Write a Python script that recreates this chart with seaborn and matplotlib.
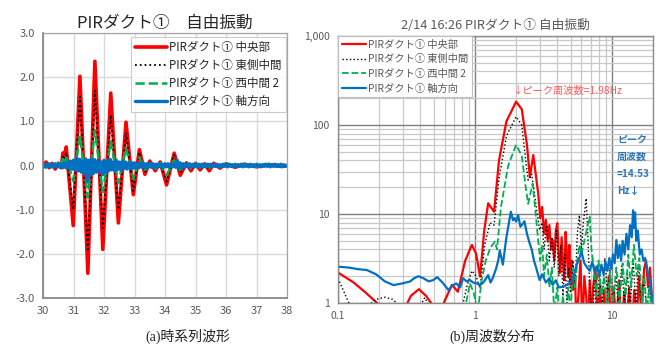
import numpy as np
import pandas as pd
import matplotlib
matplotlib.use("Agg")
import matplotlib.pyplot as plt
import seaborn as sns
from matplotlib.ticker import FixedLocator, NullFormatter

# ---------------- data ----------------
series_labels = ["PIRダクト① 中央部", "PIRダクト① 東側中間", "PIRダクト① 西中間 2", "PIRダクト① 軸方向"]
colors = ["#ff0000", "#000000", "#00b050", "#0070c0"]

# (a) time series (s, value)
t_main = [30.0, 30.1, 30.2, 30.3, 30.4, 30.5, 30.6, 30.65, 30.7, 30.76,
          30.99, 31.21, 31.47, 31.70, 31.96, 32.22, 32.47, 32.72, 32.96,
          33.16, 33.34, 33.5, 33.68, 33.84, 34.05, 34.3, 34.5, 34.7, 34.85,
          35.0, 35.15, 35.3, 35.45, 35.6, 35.8, 36.0, 36.3, 36.6, 37.0, 37.4, 37.8, 38.0]
v_center = [0.0, 0.08, -0.05, 0.05, -0.08, 0.05, -0.05, 0.28, 0.22, 0.42,
            -1.36, 2.02, -2.44, 2.36, -1.90, 1.64, -1.30, 0.98, -0.66,
            0.36, -0.20, 0.10, -0.12, 0.08, -0.44, 0.28, -0.22, 0.06, -0.12,
            0.05, -0.10, 0.04, -0.12, 0.05, -0.06, 0.04, -0.04, 0.03, -0.03, 0.02, -0.02, 0.0]
v_east = [0.0, 0.05, -0.04, 0.04, -0.06, 0.04, -0.04, 0.22, 0.16, 0.30,
          -1.00, 1.56, -1.95, 1.70, -1.42, 1.14, -1.00, 0.75, -0.58,
          0.30, -0.16, 0.08, -0.10, 0.06, -0.36, 0.24, -0.16, 0.05, -0.08,
          0.04, -0.08, 0.03, -0.08, 0.04, -0.05, 0.03, -0.03, 0.02, -0.02, 0.02, -0.02, 0.0]
v_west2 = [0.02, -0.05, 0.06, -0.04, 0.05, -0.03, 0.06, 0.15, 0.05, 0.18,
           -0.35, 0.68, -0.72, 0.80, -0.60, 0.55, -0.40, 0.40, -0.30,
           0.18, -0.10, 0.08, -0.08, 0.06, -0.22, 0.12, -0.10, 0.06, -0.06,
           0.05, -0.05, 0.04, -0.05, 0.05, -0.04, 0.05, -0.04, 0.04, -0.03, 0.04, -0.03, 0.02]
t_axial = list(np.round(np.linspace(30.0, 38.0, 161), 2))
v_axial = [
    0.02, -0.03, 0.03, -0.02, 0.04, -0.03, 0.02, -0.04, 0.03, -0.03, 0.05, -0.04, 0.03, -0.05, 0.06, -0.05, 0.08, -0.06, 0.10, -0.08,
    0.12, -0.10, 0.17, -0.12, 0.14, -0.15, 0.10, -0.18, 0.15, -0.37, 0.12, -0.22, 0.15, -0.18, 0.13, -0.15, 0.10, -0.14, 0.08, -0.21,
    0.12, -0.16, 0.10, -0.12, 0.14, -0.10, 0.08, -0.12, 0.12, -0.09, 0.08, -0.10, 0.09, -0.07, 0.08, -0.08, 0.06, -0.07, 0.07, -0.06,
    0.06, -0.06, 0.05, -0.05, 0.06, -0.04, 0.05, -0.05, 0.04, -0.04, 0.05, -0.04, 0.04, -0.04, 0.03, -0.04, 0.04, -0.03, 0.03, -0.04,
    0.04, -0.03, 0.04, -0.04, 0.03, -0.03, 0.05, -0.04, 0.12, -0.06, 0.06, -0.05, 0.04, -0.04, 0.03, -0.03, 0.04, -0.03, 0.03, -0.03,
    0.03, -0.03, 0.03, -0.02, 0.03, -0.03, 0.02, -0.03, 0.03, -0.02, 0.03, -0.03, 0.02, -0.02, 0.03, -0.03, 0.02, -0.02, 0.03, -0.02,
    0.02, -0.03, 0.03, -0.02, 0.02, -0.03, 0.03, -0.02, 0.02, -0.02, 0.03, -0.03, 0.02, -0.02, 0.02, -0.03, 0.03, -0.02, 0.02, -0.02,
    0.03, -0.02, 0.02, -0.03, 0.02, -0.02, 0.03, -0.02, 0.02, -0.03, 0.02, -0.02, 0.03, -0.02, 0.02, -0.02, 0.03, -0.03, 0.02, -0.02,
    0.0]

# (b) spectra (Hz, amplitude)
spec_center = [(0.1, 2.2), (0.13, 1.7), (0.16, 1.3), (0.2, 0.95), (0.25, 0.6), (0.3, 0.8), (0.34, 1.2), (0.39, 1.43),
               (0.44, 1.2), (0.49, 0.95), (0.54, 0.6), (0.6, 1.05), (0.68, 1.6), (0.75, 1.34), (0.85, 3.0), (0.95, 4.5),
               (1.02, 3.6), (1.09, 1.98), (1.17, 6.5), (1.25, 13.2), (1.38, 10.6), (1.5, 40), (1.7, 110), (2.0, 183),
               (2.2, 150), (2.4, 60), (2.52, 26), (2.67, 46), (2.8, 26), (2.9, 17), (3.0, 9), (3.1, 12), (3.2, 6),
               (3.3, 8.6), (3.4, 5), (3.5, 7.5), (3.6, 4), (3.7, 5.1), (3.8, 3), (3.9, 6.5), (4.0, 7.9), (4.1, 3.5),
               (4.2, 2.2), (4.3, 5.5), (4.4, 2.8), (4.5, 1.8), (4.6, 6.3), (4.7, 3.5), (4.8, 2.0), (4.9, 4.5), (5.0, 1.6),
               (5.1, 3.0), (5.2, 1.4), (5.4, 1.8), (5.5, 0.6), (5.7, 1.2), (5.9, 3.0), (6.1, 0.5), (6.3, 2.0), (6.5, 1.2),
               (6.7, 0.5), (6.9, 1.8), (7.1, 0.6), (7.3, 1.5), (7.6, 2.5), (7.9, 0.5), (8.2, 1.6), (8.5, 0.5), (8.8, 1.4),
               (9.1, 0.6), (9.5, 2.0), (9.9, 0.5), (10.3, 1.5), (10.8, 0.6), (11.3, 1.8), (11.8, 0.5), (12.3, 1.3),
               (12.8, 0.6), (13.4, 1.5), (14.0, 0.5), (14.6, 1.4), (15.2, 0.6), (15.8, 2.0), (16.5, 0.7), (17.2, 2.4),
               (17.8, 3.0), (18.4, 1.5), (19.0, 2.5), (19.6, 1.2), (20.0, 1.0)]
spec_east = [(0.1, 1.9), (0.12, 1.0), (0.14, 0.7), (0.16, 0.9), (0.19, 1.1), (0.22, 1.16), (0.25, 1.1), (0.28, 0.95),
             (0.32, 0.6), (0.38, 0.8), (0.43, 1.15), (0.47, 0.9), (0.52, 0.6), (0.65, 0.5), (0.75, 0.6), (0.82, 1.0),
             (0.88, 1.6), (0.95, 2.3), (1.02, 2.0), (1.09, 1.47), (1.18, 4.5), (1.29, 8.0), (1.38, 7.5), (1.5, 25),
             (1.7, 75), (2.0, 124), (2.2, 100), (2.35, 40), (2.45, 24), (2.6, 28), (2.75, 15), (2.97, 6.6), (3.1, 8),
             (3.2, 4), (3.35, 7.5), (3.5, 3), (3.65, 5.5), (3.8, 2.5), (3.95, 6.5), (4.1, 2.0), (4.25, 4.5), (4.4, 1.2),
             (4.55, 3.5), (4.7, 1.0), (4.85, 2.5), (5.0, 1.3), (5.2, 3.0), (5.4, 1.5), (5.6, 6), (5.8, 9.7), (6.0, 4),
             (6.2, 8), (6.5, 15), (6.7, 5), (6.9, 1.5), (7.2, 0.6), (7.5, 1.8), (7.8, 0.6), (8.1, 2.3), (8.5, 1.0),
             (8.9, 3.2), (9.3, 1.2), (9.7, 2.5), (10.2, 0.8), (10.7, 2.0), (11.2, 0.9), (11.8, 2.6), (12.4, 1.0),
             (13.0, 2.2), (13.6, 0.8), (14.3, 3.0), (15.0, 1.0), (15.7, 2.8), (16.4, 1.1), (17.2, 2.0), (18.0, 0.8),
             (18.8, 1.6), (19.5, 0.8), (20.0, 1.0)]
spec_west2 = [(0.1, 0.4), (0.5, 0.4), (0.8, 0.5), (0.85, 0.9), (0.92, 1.66), (0.98, 1.3), (1.05, 0.8), (1.12, 1.8),
              (1.2, 3.0), (1.3, 4.2), (1.4, 4.9), (1.45, 4.0), (1.55, 12), (1.75, 35), (2.0, 60), (2.2, 45), (2.35, 20),
              (2.45, 13), (2.64, 22), (2.75, 12), (2.9, 5), (3.0, 3.0), (3.1, 4.5), (3.2, 2.0), (3.35, 3.5), (3.5, 1.5),
              (3.65, 2.5), (3.8, 0.8), (4.0, 1.5), (4.2, 0.6), (4.4, 1.2), (4.6, 0.6), (4.8, 1.5), (5.0, 0.8), (5.2, 2.5),
              (5.4, 1.5), (5.6, 3), (5.8, 4.5), (6.0, 3.5), (6.3, 5), (6.6, 7), (6.9, 9.3), (7.1, 4), (7.4, 2.5),
              (7.7, 1.2), (8.0, 3.0), (8.4, 1.2), (8.8, 2.0), (9.2, 0.8), (9.7, 2.2), (10.2, 1.0), (10.8, 2.5),
              (11.4, 1.0), (12.0, 2.8), (12.6, 1.2), (13.2, 3.5), (13.8, 1.5), (14.5, 4.5), (15.2, 2.0), (15.9, 3.2),
              (16.6, 1.0), (17.3, 2.0), (18.0, 0.8), (18.8, 1.5), (19.5, 0.8), (20.0, 1.0)]
spec_axial = [(0.1, 2.56), (0.12, 2.5), (0.14, 2.4), (0.162, 2.35), (0.19, 2.1), (0.22, 1.75), (0.254, 1.59),
              (0.29, 1.65), (0.335, 1.74), (0.36, 1.9), (0.386, 2.0), (0.42, 1.9), (0.46, 1.75), (0.497, 1.81),
              (0.53, 1.95), (0.58, 1.7), (0.64, 1.4), (0.68, 1.55), (0.73, 1.66), (0.78, 1.5), (0.82, 1.9), (0.87, 1.75),
              (0.92, 1.81), (0.97, 1.7), (1.03, 1.66), (1.1, 1.6), (1.17, 1.75), (1.25, 2.06), (1.3, 1.7), (1.35, 1.9),
              (1.43, 2.45), (1.48, 3.0), (1.52, 3.9), (1.6, 2.7), (1.7, 5.5), (1.83, 10.6), (1.9, 8.5), (1.95, 9.0),
              (2.0, 8.2), (2.07, 9.7), (2.15, 7.2), (2.2, 7.5), (2.3, 8.3), (2.4, 6), (2.51, 4.7), (2.6, 4.0), (2.7, 3.0),
              (2.8, 2.5), (2.97, 1.81), (3.1, 2.1), (3.3, 1.7), (3.5, 1.9), (3.7, 1.6), (3.9, 1.8), (4.1, 1.5),
              (4.4, 1.52), (4.7, 1.6), (5.0, 1.7), (5.2, 1.8), (5.5, 2.6), (5.8, 3.2), (6.0, 3.8), (6.3, 2.8), (6.6, 2.5),
              (6.9, 2.3), (7.2, 2.9), (7.5, 2.2), (7.8, 2.6), (8.1, 2.0), (8.4, 2.7), (8.7, 2.1), (9.0, 2.9), (9.3, 2.3),
              (9.6, 3.2), (9.9, 2.4), (10.2, 3.5), (10.5, 2.8), (10.8, 5.1), (11.1, 3.2), (11.4, 4.5), (11.7, 3.0),
              (12.0, 5.0), (12.4, 3.5), (12.8, 6.0), (13.2, 4.0), (13.6, 7.5), (14.0, 5.5), (14.3, 11), (14.55, 7),
              (14.8, 10.4), (15.1, 5.0), (15.5, 6.5), (16.0, 3.5), (16.5, 4.0), (17.0, 3.0), (17.5, 3.2), (18.0, 2.56),
              (18.5, 2.0), (19.0, 1.8), (19.5, 1.3), (20.0, 1.0)]

x1_ticks = [30, 31, 32, 33, 34, 35, 36, 37, 38]
y1_ticks = [3.0, 2.0, 1.0, 0.0, -1.0, -2.0, -3.0]
x2_ticks = [0.1, 1, 10]
x2_ticklabels = ["0.1", "1", "10"]
y2_ticks = [1, 10, 100, 1000]
y2_ticklabels = ["1", "10", "100", "1,000"]

# ---------------- style ----------------
sns.set_theme(style="white")
plt.rcParams["font.family"] = ["Noto Sans CJK JP", "DejaVu Sans"]
GREY = "#595959"

fig = plt.figure(figsize=(6.62, 3.49), dpi=100)
ax1 = fig.add_axes([0.065, 0.1461, 0.3686, 0.7593])
ax2 = fig.add_axes([0.5106, 0.1318, 0.4758, 0.765])

# ---------------- (a) ----------------
styles1 = [dict(lw=2.6, ls="-"), dict(lw=1.3, ls=":"), dict(lw=1.8, ls="--"), dict(lw=2.4, ls="-")]
ts_data = [(t_main, v_center), (t_main, v_east), (t_main, v_west2), (t_axial, v_axial)]
for (t, v), lab, c, st in zip(ts_data, series_labels, colors, styles1):
    df = pd.DataFrame({"t": t, "v": v})
    sns.lineplot(data=df, x="t", y="v", ax=ax1, color=c, linewidth=st["lw"],
                 linestyle=st["ls"], label=lab, sort=False, estimator=None)
ax1.set_xlim(30, 38)
ax1.set_ylim(-3, 3)
ax1.set_xticks(x1_ticks)
ax1.set_xticklabels([str(x) for x in x1_ticks])
ax1.set_yticks(y1_ticks)
ax1.set_yticklabels([f"{y:.1f}" for y in y1_ticks])
ax1.grid(True, color="#d9d9d9", lw=1.0)
ax1.set_axisbelow(True)
ax1.tick_params(length=0, labelsize=8, colors=GREY, pad=6)
ax1.set_xlabel("")
ax1.set_ylabel("")
for s in ax1.spines.values():
    s.set_color("#a6a6a6")
    s.set_linewidth(0.9)
ax1.spines["left"].set_color("#7f7f7f")
ax1.spines["bottom"].set_color("#7f7f7f")
ax1.spines["left"].set_linewidth(1.2)
ax1.spines["bottom"].set_linewidth(1.2)
leg1 = ax1.legend(loc="upper right", bbox_to_anchor=(0.995, 0.985), fontsize=8.3, frameon=True,
                  fancybox=False, edgecolor="#bfbfbf", handlelength=2.8, handletextpad=0.2,
                  labelspacing=0.42, borderpad=0.35, borderaxespad=0.0)
leg1.get_frame().set_linewidth(0.8)
ax1.set_title("PIRダクト①　自由振動", fontsize=12, color="#262626", pad=4)

# ---------------- (b) ----------------
styles2 = [dict(lw=1.6, ls="-"), dict(lw=1.0, ls=":"), dict(lw=1.3, ls="--"), dict(lw=1.6, ls="-")]
specs = [spec_center, spec_east, spec_west2, spec_axial]
for sp, lab, c, st in zip(specs, series_labels, colors, styles2):
    df = pd.DataFrame(sp, columns=["f", "a"])
    sns.lineplot(data=df, x="f", y="a", ax=ax2, color=c, linewidth=st["lw"],
                 linestyle=st["ls"], label=lab, sort=False, estimator=None)
ax2.set_xscale("log")
ax2.set_yscale("log")
ax2.set_xlim(0.1, 20)
ax2.set_ylim(1, 1000)
ax2.xaxis.set_major_locator(FixedLocator(x2_ticks))
ax2.yaxis.set_major_locator(FixedLocator(y2_ticks))
ax2.set_xticklabels(x2_ticklabels)
ax2.set_yticklabels(y2_ticklabels)
minor_x = [m * d for d in (0.1, 1, 10) for m in range(2, 10) if m * d < 20]
minor_y = [m * d for d in (1, 10, 100) for m in range(2, 10)]
ax2.xaxis.set_minor_locator(FixedLocator(minor_x))
ax2.yaxis.set_minor_locator(FixedLocator(minor_y))
ax2.xaxis.set_minor_formatter(NullFormatter())
ax2.yaxis.set_minor_formatter(NullFormatter())
ax2.grid(True, which="major", color="#7f7f7f", lw=1.0)
ax2.grid(True, which="minor", color="#c8c8c8", lw=0.9)
ax2.set_axisbelow(True)
ax2.tick_params(which="both", length=0, labelsize=7.5, colors=GREY, pad=6)
ax2.set_xlabel("")
ax2.set_ylabel("")
for s in ax2.spines.values():
    s.set_color("#8c8c8c")
    s.set_linewidth(1.0)
leg2 = ax2.legend(loc="upper left", bbox_to_anchor=(0.0, 1.0), fontsize=7.4, frameon=True,
                  fancybox=False, edgecolor="#bfbfbf", handlelength=2.4, handletextpad=0.2,
                  labelspacing=0.45, borderpad=0.35, borderaxespad=0.0, framealpha=1.0)
leg2.get_frame().set_linewidth(0.8)
for txt in leg2.get_texts():
    txt.set_color(GREY)
ax2.set_title("2/14 16:26 PIRダクト① 自由振動", fontsize=9.2, color=GREY, pad=5)

ax2.text(1.87, 245, "↓ピーク周波数=1.98Hz", fontsize=7.4, color="#ff5b5b",
         ha="left", va="center")
ax2.text(10.9, 78, "ピーク\n周波数\n=14.53\nHz↓", fontsize=7.2, color="#2e75b6",
         fontweight="bold", ha="left", va="top", linespacing=1.9)

# captions
fig.text(0.283, 1 - 336 / 349, "(a)時系列波形", fontsize=10, ha="center", va="center",
         family=["Liberation Serif", "Noto Sans CJK JP"], color="#222222")
fig.text(0.743, 1 - 336 / 349, "(b)周波数分布", fontsize=10, ha="center", va="center",
         family=["Liberation Serif", "Noto Sans CJK JP"], color="#222222")

fig.savefig("out.png", dpi=100)
